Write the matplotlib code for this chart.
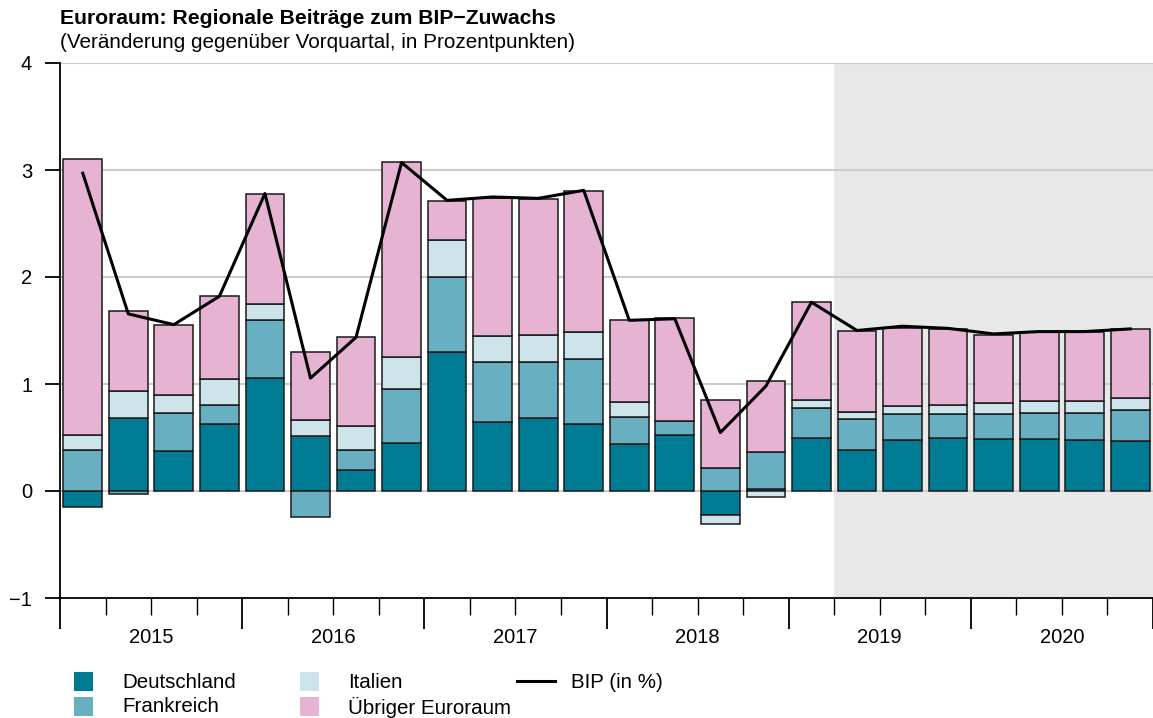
import numpy as np
import matplotlib
matplotlib.use('Agg')
import matplotlib.pyplot as plt
from matplotlib.patches import Rectangle
from matplotlib.lines import Line2D

plt.rcParams['font.family'] = ['Liberation Sans', 'DejaVu Sans']

years = ['2015', '2016', '2017', '2018', '2019', '2020']

# Beiträge je Quartal (2015Q1 - 2020Q4), Prozentpunkte
deutschland = [-0.15, 0.68, 0.375, 0.63, 1.06, 0.515, 0.20, 0.447,
               1.30, 0.643, 0.68, 0.625, 0.437, 0.527, -0.228, 0.02,
               0.50, 0.384, 0.478, 0.496, 0.49, 0.484, 0.475, 0.468]
frankreich = [0.38, -0.03, 0.35, 0.17, 0.54, -0.24, 0.18, 0.51,
              0.70, 0.565, 0.53, 0.61, 0.256, 0.13, 0.218, 0.345,
              0.275, 0.287, 0.237, 0.219, 0.234, 0.244, 0.25, 0.29]
italien = [0.14, 0.25, 0.17, 0.245, 0.15, 0.147, 0.23, 0.30,
           0.35, 0.24, 0.25, 0.25, 0.137, 0.0, -0.078, -0.053,
           0.075, 0.063, 0.075, 0.09, 0.10, 0.115, 0.12, 0.115]
uebrige = [2.585, 0.755, 0.66, 0.78, 1.03, 0.633, 0.83, 1.815,
           0.36, 1.29, 1.27, 1.32, 0.765, 0.96, 0.637, 0.665,
           0.914, 0.759, 0.734, 0.705, 0.634, 0.64, 0.64, 0.637]
bip = [2.97, 1.655, 1.555, 1.82, 2.78, 1.055, 1.436, 3.07,
       2.716, 2.748, 2.735, 2.81, 1.595, 1.61, 0.546, 0.98,
       1.764, 1.50, 1.54, 1.52, 1.468, 1.49, 1.49, 1.515]

labels = ['Deutschland', 'Frankreich', 'Italien', 'Übriger Euroraum']
colors = ['#007b94', '#68afc1', '#cde5ea', '#e6b3d2']
series = [deutschland, frankreich, italien, uebrige]

W, H = 1153, 718
n = len(bip)
x = np.arange(n)

fig = plt.figure(figsize=(W / 100, H / 100), dpi=100)
ax = fig.add_axes([60 / W, 1 - 598 / H, 1 - 60 / W, (598 - 63) / H])

# Prognosezeitraum grau hinterlegt
ax.axvspan(16.5, n, color='#e8e8e8', zorder=0, lw=0)

for yv in [0, 1, 2, 3, 4]:
    ax.axhline(yv, color='#cccccc', lw=1.5, zorder=1)

pos_base = np.zeros(n)
neg_base = np.zeros(n)
for vals, col in zip(series, colors):
    v = np.array(vals)
    base = np.where(v >= 0, pos_base, neg_base)
    ax.bar(x, v, bottom=base, width=0.85, color=col, edgecolor='#1a1a1a',
           linewidth=1.1, zorder=2)
    pos_base = pos_base + np.clip(v, 0, None)
    neg_base = neg_base + np.clip(v, None, 0)

ax.plot(x, bip, color='black', lw=2.2, zorder=3)

ax.set_xlim(-0.5, 23.38)
ax.set_ylim(-1, 4)

for s in ['top', 'right']:
    ax.spines[s].set_visible(False)
ax.spines['left'].set_linewidth(1.3)
ax.spines['bottom'].set_linewidth(1.3)

ax.set_yticks([-1, 0, 1, 2, 3, 4])
ax.set_yticklabels(['\u22121', '0', '1', '2', '3', '4'])
ax.tick_params(axis='y', length=11, width=1.3, labelsize=14.5, pad=9)

# Quartalsgrenzen als Ticks, Jahre mittig
ax.set_xticks([i - 0.5 for i in range(0, n + 1, 4)])
ax.set_xticks([i - 0.5 for i in range(n + 1) if i % 4 != 0], minor=True)
ax.tick_params(axis='x', which='major', length=22, width=1.3, labelbottom=False)
ax.tick_params(axis='x', which='minor', length=12, width=1.0)
for k, yr in enumerate(years):
    ax.text(4 * k + 1.5, -1.373, yr, ha='center', va='center', fontsize=14.5)

fig.text(60 / W, 1 - 18 / H, 'Euroraum: Regionale Beiträge zum BIP\u2212Zuwachs',
         fontsize=15.2, fontweight='bold', va='center', ha='left')
fig.text(60 / W, 1 - 42 / H, '(Veränderung gegenüber Vorquartal, in Prozentpunkten)',
         fontsize=14.9, va='center', ha='left')

# Legende (manuell, in Pixelkoordinaten der Abbildung)
leg_pos = [(74, 672), (74, 697), (300, 672), (300, 697)]
for (px, py), lab, col in zip(leg_pos, labels, colors):
    fig.add_artist(Rectangle((px / W, 1 - (py + 19) / H), 19 / W, 19 / H,
                             facecolor=col, edgecolor='none', transform=fig.transFigure))
    fig.text((px + 48) / W, 1 - (py + 10) / H, lab, fontsize=14.8,
             va='center', ha='left')
fig.add_artist(Line2D([517 / W, 555 / W], [1 - 681 / H, 1 - 681 / H], color='black',
                      lw=2.2, transform=fig.transFigure))
fig.text(571 / W, 1 - 682 / H, 'BIP (in %)', fontsize=14.8, va='center', ha='left')

fig.savefig('out.png', dpi=100)
